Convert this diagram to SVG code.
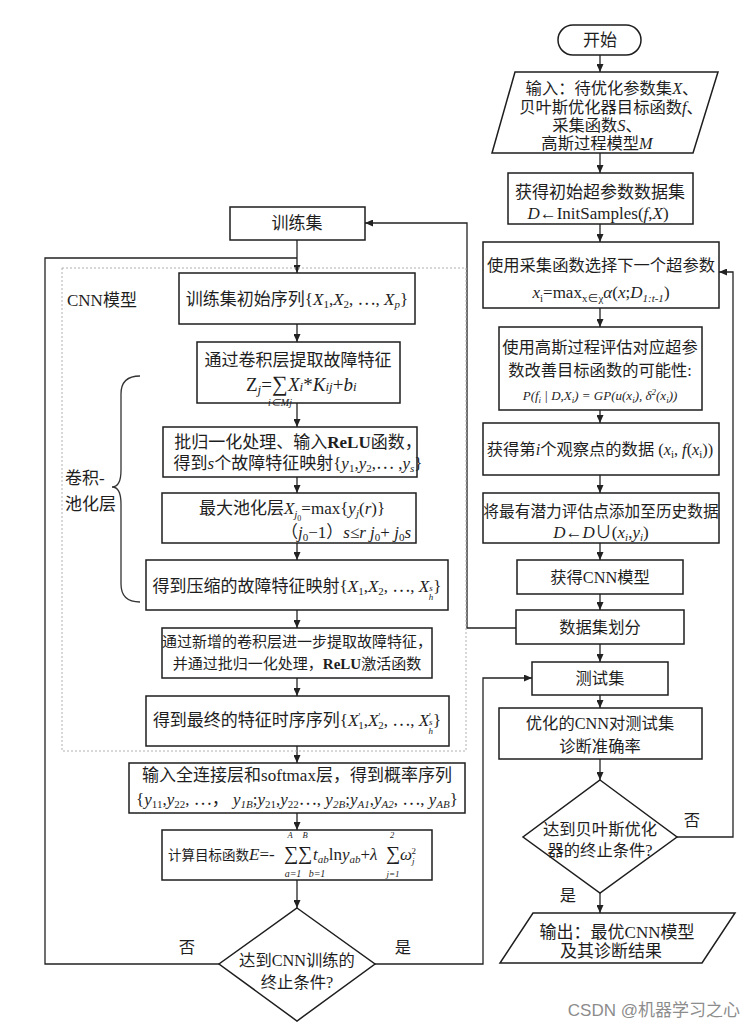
<svg xmlns="http://www.w3.org/2000/svg" width="755" height="1030" viewBox="0 0 755 1030">
<defs>
<marker id="ah" markerWidth="8" markerHeight="7" refX="8" refY="3.5" orient="auto" markerUnits="userSpaceOnUse"><path d="M0,0 L8,3.5 L0,7 z" fill="#222"/></marker>
<style>
.b{fill:#fff;stroke:#1e1e1e;stroke-width:1.5}
.t{font-family:"Liberation Serif","Noto Sans CJK SC",serif;font-size:16.3px;fill:#1e1e1e;text-anchor:middle}
.l{text-anchor:start}
.i{font-style:italic}
.s{font-size:11px}
.g{font-size:22px}
.g2{font-size:20px}
.c{fill:none;stroke:#222;stroke-width:1.3}
.a{marker-end:url(#ah)}
</style>
</defs>
<rect width="755" height="1030" fill="#fff"/>
<g id="connectors">
<path class="c a" d="M600,55 V72"/>
<path class="c a" d="M600,153 V173"/>
<path class="c a" d="M600,224 V242"/>
<path class="c a" d="M600,308 V327"/>
<path class="c a" d="M600,410 V423"/>
<path class="c a" d="M600,475 V493"/>
<path class="c a" d="M600,543 V560"/>
<path class="c a" d="M600,594 V610"/>
<path class="c a" d="M600,644 V662"/>
<path class="c a" d="M600,695 V708"/>
<path class="c a" d="M600,759 V780"/>
<path class="c a" d="M600,893 V913"/>
<path class="c a" d="M677,837 H733 V272 H719"/>
<path class="c a" d="M516,628 H467 V223 H365"/>
<path class="c a" d="M297,240 V273"/>
<path class="c" d="M219,964 H45 V258 H297"/>
<path class="c a" d="M297,324 V342"/>
<path class="c a" d="M297,403 V427"/>
<path class="c a" d="M297,477 V493"/>
<path class="c a" d="M297,543 V560"/>
<path class="c a" d="M297,610 V628"/>
<path class="c a" d="M297,678 V696"/>
<path class="c a" d="M297,746 V763"/>
<path class="c a" d="M297,813 V830"/>
<path class="c a" d="M297,880 V908"/>
<path class="c a" d="M375,964 H483 V678 H532"/>
</g>
<g id="cnn-group">
<rect x="62" y="268" width="404" height="483" fill="none" stroke="#b0b0b0" stroke-width="1" stroke-dasharray="2,2"/>
<text class="t l" x="67" y="306" style="font-size:17px">CNN模型</text>
<path d="M140,376 Q121,376 121,394 V470 Q121,487 112,487 Q121,487 121,504 V584 Q121,602 140,602" fill="none" stroke="#333" stroke-width="1.3"/>
<text class="t l" x="65" y="484" style="font-size:17px">卷积-</text>
<text class="t l" x="65" y="510" style="font-size:17px">池化层</text>
</g>
<g id="start">
<rect class="b" x="558" y="25" width="83" height="30" rx="15"/>
<text class="t" x="600" y="46" style="font-size:17px">开始</text>
</g>
<g id="input">
<polygon class="b" points="515,72 718,72 693,153 492,153"/>
<text class="t" x="612" y="94">输入：待优化参数集<tspan class="i">X</tspan>、</text>
<text class="t" x="611" y="113">贝叶斯优化器目标函数<tspan class="i">f</tspan>、</text>
<text class="t" x="597" y="131">采集函数<tspan class="i">S</tspan>、</text>
<text class="t" x="597" y="149">高斯过程模型<tspan class="i">M</tspan></text>
</g>
<g id="init">
<rect class="b" x="508" y="173" width="185" height="51"/>
<text class="t" x="600" y="198" style="font-size:17px">获得初始超参数数据集</text>
<text class="t" x="598" y="219" style="font-size:17px"><tspan class="i">D</tspan>←InitSamples(<tspan class="i">f</tspan>,<tspan class="i">X</tspan>)</text>
</g>
<g id="select">
<rect class="b" x="483" y="242" width="236" height="66"/>
<text class="t" x="601" y="271">使用采集函数选择下一个超参数</text>
<text class="t" x="601" y="298" style="font-size:17px"><tspan class="i">x</tspan><tspan class="s" dy="4">i</tspan><tspan dy="-4">=max</tspan><tspan class="s" dy="4">x∈χ</tspan><tspan class="i" dy="-4">α</tspan>(<tspan class="i">x</tspan>;<tspan class="i">D</tspan><tspan class="s i" dy="4">1:t-1</tspan><tspan dy="-4">)</tspan></text>
</g>
<g id="gp">
<rect class="b" x="499" y="327" width="203" height="83"/>
<text class="t" x="600" y="353">使用高斯过程评估对应超参</text>
<text class="t" x="600" y="376">数改善目标函数的可能性:</text>
<text class="t i" x="600" y="400" style="font-size:13px">P(f<tspan style="font-size:9px" dy="3">i</tspan><tspan dy="-3"> | D,X</tspan><tspan style="font-size:9px" dy="3">i</tspan><tspan dy="-3">) = GP(u(x</tspan><tspan style="font-size:9px" dy="3">i</tspan><tspan dy="-3">), δ</tspan><tspan style="font-size:9px" dy="-5">2</tspan><tspan dy="5">(x</tspan><tspan style="font-size:9px" dy="3">i</tspan><tspan dy="-3">))</tspan></text>
</g>
<g id="observe">
<rect class="b" x="483" y="423" width="236" height="52"/>
<text class="t" x="600" y="455">获得第<tspan class="i">i</tspan>个观察点的数据 (<tspan class="i">x</tspan><tspan class="s" dy="3">i</tspan><tspan dy="-3">, </tspan><tspan class="i">f</tspan>(<tspan class="i">x</tspan><tspan class="s" dy="3">i</tspan><tspan dy="-3">))</tspan></text>
</g>
<g id="history">
<rect class="b" x="483" y="493" width="236" height="50"/>
<text class="t" x="601" y="517" style="font-size:15.7px">将最有潜力评估点添加至历史数据</text>
<text class="t" x="601" y="538" style="font-size:17px"><tspan class="i">D</tspan>←<tspan class="i">D</tspan>∪(<tspan class="i">x</tspan><tspan class="s i" dy="3">i</tspan><tspan dy="-3">,</tspan><tspan class="i">y</tspan><tspan class="s i" dy="3">i</tspan><tspan dy="-3">)</tspan></text>
</g>
<g id="getcnn">
<rect class="b" x="517" y="560" width="166" height="34"/>
<text class="t" x="600" y="583">获得CNN模型</text>
</g>
<g id="split">
<rect class="b" x="516" y="610" width="168" height="34"/>
<text class="t" x="600" y="633">数据集划分</text>
</g>
<g id="testset">
<rect class="b" x="532" y="662" width="136" height="33"/>
<text class="t" x="600" y="684">测试集</text>
</g>
<g id="accuracy">
<rect class="b" x="499" y="708" width="203" height="51"/>
<text class="t" x="600" y="729">优化的CNN对测试集</text>
<text class="t" x="600" y="752">诊断准确率</text>
</g>
<g id="bayes-stop">
<polygon class="b" points="600,780 677,837 600,893 523,837"/>
<text class="t" x="600" y="835">达到贝叶斯优化</text>
<text class="t" x="600" y="856">器的终止条件?</text>
<text class="t" x="692" y="826">否</text>
<text class="t" x="568" y="901">是</text>
</g>
<g id="output">
<polygon class="b" points="533,913 735,913 702,963 500,963"/>
<text class="t" x="617" y="938" style="font-size:17px">输出：最优CNN模型</text>
<text class="t" x="611" y="957" style="font-size:17px">及其诊断结果</text>
</g>
<g id="trainset">
<rect class="b" x="230" y="207" width="135" height="33"/>
<text class="t" x="297" y="229" style="font-size:17px">训练集</text>
</g>
<g id="seq">
<rect class="b" x="179" y="273" width="236" height="51"/>
<text class="t" x="297" y="305" style="font-size:17px">训练集初始序列{<tspan class="i">X</tspan><tspan class="s" dy="3">1</tspan><tspan dy="-3">,</tspan><tspan class="i">X</tspan><tspan class="s" dy="3">2</tspan><tspan dy="-3">, ⋯, </tspan><tspan class="i">X</tspan><tspan class="s i" dy="3">p</tspan><tspan dy="-3">}</tspan></text>
</g>
<g id="conv">
<rect class="b" x="197" y="342" width="203" height="61"/>
<text class="t" x="298" y="366" style="font-size:17px">通过卷积层提取故障特征</text>
<text class="t l" x="246" y="391" style="font-size:19px">Z<tspan class="i" style="font-size:13px" dy="3">j</tspan><tspan dy="-3">=</tspan><tspan class="g" x="272">∑</tspan><tspan class="i" x="288">X</tspan><tspan class="i" style="font-size:13px">i</tspan><tspan>*</tspan><tspan class="i">K</tspan><tspan class="i" style="font-size:13px">ij</tspan><tspan>+</tspan><tspan class="i">b</tspan><tspan class="i" style="font-size:13px">i</tspan></text>
<text class="t i" x="280" y="406" style="font-size:10px">i∈Mj</text>
</g>
<g id="relu">
<rect class="b" x="163" y="427" width="254" height="50"/>
<text class="t" x="298" y="448" style="font-size:17px">批归一化处理、输入<tspan style="font-weight:bold">ReLU</tspan>函数，</text>
<text class="t" x="298" y="469" style="font-size:17px">得到<tspan class="i">s</tspan>个故障特征映射{<tspan class="i">y</tspan><tspan class="s" dy="3">1</tspan><tspan dy="-3">,</tspan><tspan class="i">y</tspan><tspan class="s" dy="3">2</tspan><tspan dy="-3">,⋯ ,</tspan><tspan class="i">y</tspan><tspan class="s i" dy="3">s</tspan><tspan dy="-3">}</tspan></text>
</g>
<g id="pool">
<rect class="b" x="162" y="493" width="254" height="50"/>
<text class="t" x="292" y="514" style="font-size:17px">最大池化层<tspan class="i">X</tspan><tspan class="s i" dy="4">j</tspan><tspan style="font-size:8px" dy="3">0</tspan><tspan dy="-7">=max{</tspan><tspan class="i">y</tspan><tspan class="s i" dy="3">j</tspan><tspan dy="-3">(</tspan><tspan class="i">r</tspan>)}</text>
<text class="t" x="346" y="538" style="font-size:17px">（<tspan class="i">j</tspan><tspan class="s" dy="3">0</tspan><tspan dy="-3">−1）</tspan><tspan class="i">s</tspan>≤<tspan class="i">r</tspan><tspan> </tspan><tspan class="i">j</tspan><tspan class="s" dy="3">0</tspan><tspan dy="-3">+ </tspan><tspan class="i">j</tspan><tspan class="s" dy="3">0</tspan><tspan class="i" dy="-3">s</tspan></text>
</g>
<g id="compress">
<rect class="b" x="146" y="560" width="302" height="50"/>
<text class="t" x="297" y="592" style="font-size:17px">得到压缩的故障特征映射{<tspan class="i">X</tspan><tspan class="s" dy="3">1</tspan><tspan dy="-3">,</tspan><tspan class="i">X</tspan><tspan class="s" dy="3">2</tspan><tspan dy="-3">, ⋯, </tspan><tspan class="i">X</tspan><tspan class="i" style="font-size:9px" dy="-1">s</tspan><tspan class="i" style="font-size:9px" dx="-4" dy="9">h</tspan><tspan dy="-8">}</tspan></text>
</g>
<g id="newconv">
<rect class="b" x="162" y="628" width="270" height="50"/>
<text class="t" x="297" y="647" style="font-size:15px">通过新增的卷积层进一步提取故障特征，</text>
<text class="t" x="297" y="669" style="font-size:15px">并通过批归一化处理，<tspan style="font-weight:bold">ReLU</tspan>激活函数</text>
</g>
<g id="final">
<rect class="b" x="146" y="696" width="303" height="50"/>
<text class="t" x="297" y="726" style="font-size:17px">得到最终的特征时序序列{<tspan class="i">X</tspan><tspan style="font-size:10px" dy="-6">'</tspan><tspan class="s" dx="-2" dy="9">1</tspan><tspan dy="-3">,</tspan><tspan class="i">X</tspan><tspan style="font-size:10px" dy="-6">'</tspan><tspan class="s" dx="-2" dy="9">2</tspan><tspan dy="-3">, ⋯, </tspan><tspan class="i">X</tspan><tspan style="font-size:10px" dy="-6">'</tspan><tspan class="i" style="font-size:9px" dx="-2" dy="5">s</tspan><tspan class="i" style="font-size:9px" dx="-4" dy="9">h</tspan><tspan dy="-8">}</tspan></text>
</g>
<g id="fc">
<rect class="b" x="129" y="763" width="336" height="50"/>
<text class="t" x="297" y="781" style="font-size:17px">输入全连接层和softmax层，得到概率序列</text>
<text class="t" x="297" y="805" style="font-size:17px">{<tspan class="i">y</tspan><tspan class="s" dy="3">11</tspan><tspan dy="-3">,</tspan><tspan class="i">y</tspan><tspan class="s" dy="3">22</tspan><tspan dy="-3">, ⋯，  </tspan><tspan class="i">y</tspan><tspan class="s i" dy="3">1B</tspan><tspan dy="-3">;</tspan><tspan class="i">y</tspan><tspan class="s" dy="3">21</tspan><tspan dy="-3">,</tspan><tspan class="i">y</tspan><tspan class="s" dy="3">22</tspan><tspan dy="-3">⋯, </tspan><tspan class="i">y</tspan><tspan class="s i" dy="3">2B</tspan><tspan dy="-3">;</tspan><tspan class="i">y</tspan><tspan class="s i" dy="3">A1</tspan><tspan dy="-3">,</tspan><tspan class="i">y</tspan><tspan class="s i" dy="3">A2</tspan><tspan dy="-3">, ⋯, </tspan><tspan class="i">y</tspan><tspan class="s i" dy="3">AB</tspan><tspan dy="-3">}</tspan></text>
</g>
<g id="loss">
<rect class="b" x="162" y="830" width="270" height="50"/>
<text class="t l" x="168" y="860" style="font-size:13.5px">计算目标函数</text>
<text class="t l" x="249" y="860" style="font-size:17px"><tspan class="i">E</tspan>=-<tspan class="g2" x="284">∑</tspan><tspan class="g2" x="298">∑</tspan><tspan class="i" x="313">t</tspan><tspan class="i s" dy="3">ab</tspan><tspan dy="-3">ln</tspan><tspan class="i">y</tspan><tspan class="i s" dy="3">ab</tspan><tspan dy="-3">+</tspan><tspan class="i">λ</tspan><tspan class="g2" x="386">∑</tspan><tspan class="i" x="400">ω</tspan><tspan class="i" style="font-size:9px" dy="4">j</tspan><tspan style="font-size:9px" dx="-3" dy="-10">2</tspan></text>
<text class="t i" x="290" y="838" style="font-size:8.5px">A</text>
<text class="t i" x="305" y="838" style="font-size:8.5px">B</text>
<text class="t i" x="392" y="838" style="font-size:8.5px">2</text>
<text class="t i" x="293" y="877" style="font-size:10px">a=1</text>
<text class="t i" x="317" y="877" style="font-size:10px">b=1</text>
<text class="t i" x="393" y="877" style="font-size:9px">j=1</text>
</g>
<g id="cnn-stop">
<polygon class="b" points="297,908 375,964 297,1021 219,964"/>
<text class="t" x="297" y="966">达到CNN训练的</text>
<text class="t" x="297" y="988">终止条件?</text>
<text class="t" x="187" y="953">否</text>
<text class="t" x="403" y="953">是</text>
</g>
<text x="740" y="1016" text-anchor="end" style="font-family:'Liberation Sans','Noto Sans CJK SC',sans-serif;font-size:17px;fill:#8c8c8c">CSDN @机器学习之心</text>
</svg>
